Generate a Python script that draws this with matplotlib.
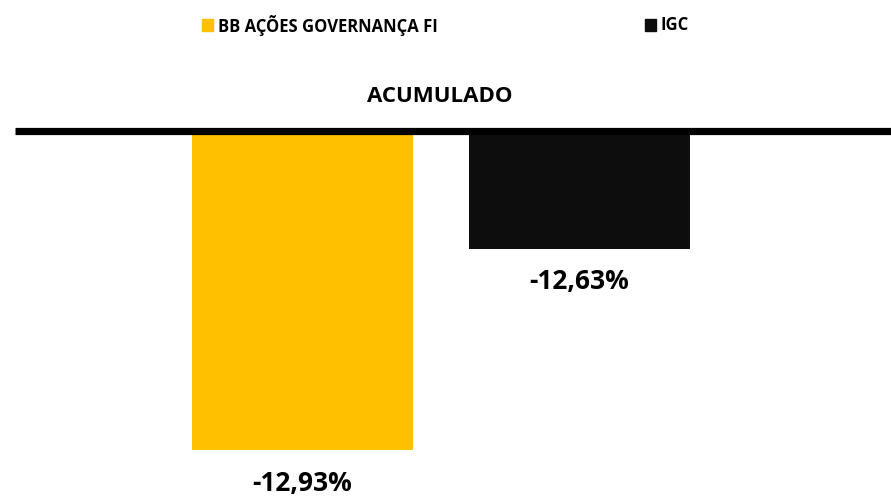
import matplotlib.pyplot as plt
from matplotlib.patches import Rectangle

series = ["BB AÇÕES GOVERNANÇA FI", "IGC"]
values = [-12.93, -12.63]
labels = ["-12,93%", "-12,63%"]
colors = ["#FFC000", "#0D0D0D"]
title = "ACUMULADO"

plt.rcParams['font.family'] = ['Open Sans', 'DejaVu Sans']

W, H = 891, 497
fig = plt.figure(figsize=(W / 100, H / 100), dpi=100)

# axes: top spine is the thick baseline at y=131 px, bottom at 470 px
ax = fig.add_axes([15 / W, 1 - 470 / H, 876 / W, (470 - 131) / H])
x = list(range(len(values)))
ax.bar(x, values, width=0.8, color=colors)
ax.set_xlim(-1.038, 2.124)
ax.set_ylim(-12.959, -12.455)

for side in ["left", "right", "bottom"]:
    ax.spines[side].set_visible(False)
ax.spines["top"].set_linewidth(5.2)
ax.spines["top"].set_color("black")
ax.spines["top"].set_capstyle("butt")
ax.set_xticks([])
ax.set_yticks([])

for xi, v, lab in zip(x, values, labels):
    ax.annotate(lab, (xi, v), xytext=(0, -23.5), textcoords="offset points",
                ha="center", va="center", fontsize=19, fontweight="bold",
                annotation_clip=False)

fig.text(440 / W, 1 - 97 / H, title, ha="center", va="center",
         fontsize=16, fontweight="bold")

# legend drawn by hand
legend_pos = [(202, 218), (645, 660)]
for (sx, tx), name, c in zip(legend_pos, series, colors):
    fig.patches.append(Rectangle((sx / W, 1 - 31 / H), 11 / W, 12 / H,
                                 transform=fig.transFigure, color=c))
    fig.text(tx / W, 1 - 25 / H, name, ha="left", va="center",
             fontsize=12, fontweight="bold")

fig.savefig("out.png", dpi=100)
